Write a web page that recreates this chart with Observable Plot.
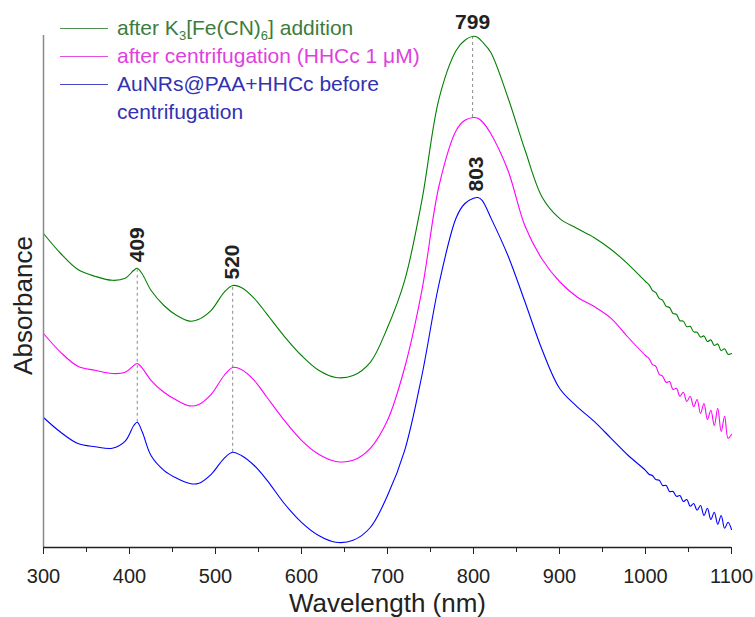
<!DOCTYPE html>
<html><head><meta charset="utf-8">
<script src="https://cdn.jsdelivr.net/npm/d3@7"></script>
<script src="https://cdn.jsdelivr.net/npm/@observablehq/plot@0.6"></script>
<style>
body{margin:0;background:#fff;font-family:"Liberation Sans",Arial,sans-serif;}
#wrap{position:relative;width:755px;height:617px;}
#legend{position:absolute;left:60px;top:14px;font-size:21px;line-height:28px;}
.row{display:flex;align-items:center;height:28px;white-space:nowrap}
.swatch{width:48px;height:0;border-top:1px solid;margin-right:9px}
.spacer{width:57px}
sub{font-size:0.62em;vertical-align:-0.35em;line-height:0}
</style></head><body><div id="wrap"><div id="legend"></div></div>
<script>
// Wavelength grid (nm)
const wavelength = [300,320,340,360,380,395,405,409,415,425,440,455,470,480,495,510,520,530,545,560,580,600,620,640,660,680,700,720,740,760,780,790,800,805,810,820,840,860,880,900,920,940,960,980,
  1000,1004,1008,1012,1016,1020,1024,1028,1032,1036,1040,1044,1048,1052,1056,1060,1064,1068,1072,1076,1080,1084,1088,1092,1096,1100];

// Absorbance (a.u., offset traces)
const greenK3 = [0.785,0.735,0.695,0.678,0.668,0.673,0.693,0.698,0.683,0.643,0.605,0.580,0.566,0.570,0.593,0.638,0.655,0.650,0.623,0.583,0.528,0.480,0.443,0.425,0.430,0.463,0.550,0.668,0.868,1.123,1.243,1.268,1.278,1.275,1.265,1.238,1.125,0.993,0.875,0.823,0.798,0.775,0.745,0.708,
  0.665,0.657,0.643,0.637,0.623,0.618,0.603,0.600,0.585,0.583,0.567,0.566,0.552,0.553,0.539,0.538,0.526,0.529,0.515,0.519,0.505,0.509,0.492,0.497,0.483,0.485];
const magentaCentr = [0.535,0.488,0.453,0.443,0.435,0.438,0.455,0.460,0.448,0.418,0.388,0.368,0.354,0.357,0.383,0.430,0.450,0.445,0.418,0.375,0.318,0.268,0.233,0.215,0.218,0.248,0.318,0.450,0.643,0.905,1.043,1.068,1.075,1.073,1.065,1.035,0.943,0.803,0.720,0.665,0.627,0.603,0.573,0.525,
  0.480,0.473,0.458,0.453,0.433,0.428,0.413,0.415,0.395,0.398,0.378,0.388,0.365,0.378,0.352,0.370,0.335,0.360,0.320,0.343,0.305,0.348,0.290,0.328,0.273,0.283];
const blueBefore = [0.325,0.288,0.260,0.252,0.248,0.266,0.305,0.313,0.288,0.230,0.193,0.173,0.160,0.160,0.183,0.223,0.238,0.230,0.205,0.168,0.110,0.063,0.030,0.013,0.018,0.050,0.130,0.243,0.430,0.660,0.825,0.860,0.873,0.875,0.868,0.825,0.730,0.613,0.493,0.398,0.353,0.316,0.273,0.230,
  0.193,0.183,0.180,0.170,0.168,0.155,0.155,0.140,0.140,0.128,0.130,0.115,0.120,0.103,0.110,0.093,0.105,0.080,0.098,0.070,0.088,0.058,0.080,0.048,0.063,0.045];

const seriesKeys = ["green","magenta","blue"];
const seriesLabels = [
  "after K<sub>3</sub>[Fe(CN)<sub>6</sub>] addition",
  "after centrifugation (HHCc 1 \u03bcM)",
  "AuNRs@PAA+HHCc before<br>centrifugation"
];
const lineColors = ["#4f8c4f","#e24fe2","#4848c6"];
const textColors = ["#3c7c3c","#e03fe0","#3232b2"];

// Peak annotations
const peakLabels = ["409","520","799","803"];
const peakWavelengths = [409,520,799,803];
const peakOn = ["green","green","green","blue"];
const peakRotated = [true,true,false,true];
// Dashed drop lines: wavelength, lower trace, upper trace
const dropWavelengths = [409,520,799];
const dropFrom = ["blue","blue","magenta"];
const dropTo = ["green","green","green"];

const xTicks = [300,400,500,600,700,800,900,1000,1100];
const xMinorTicks = [350,450,550,650,750,850,950,1050];

const seriesValues = {green: greenK3, magenta: magentaCentr, blue: blueBefore};
const rows = [];
seriesKeys.forEach((k) => wavelength.forEach((w, i) => rows.push({w, a: seriesValues[k][i], s: k})));
const nearestIdx = w => d3.minIndex(wavelength, v => Math.abs(v - w));
const valAt = (k, w) => seriesValues[k][nearestIdx(w)];

const peaks = peakLabels.map((t, i) => ({t, w: peakWavelengths[i], a: valAt(peakOn[i], peakWavelengths[i]), rot: peakRotated[i]}));
const drops = dropWavelengths.map((w, i) => ({w, a1: valAt(dropFrom[i], w), a2: valAt(dropTo[i], w)}));

const chart = Plot.plot({
  width: 755, height: 617,
  marginTop: 35, marginBottom: 70, marginLeft: 43, marginRight: 24,
  style: {fontFamily: '"Liberation Sans", Arial, sans-serif', background: "white", color: "#222"},
  x: {domain: [300, 1100]},
  y: {domain: [0, 1.28], axis: null},
  color: {domain: seriesKeys, range: lineColors},
  marks: [
    Plot.ruleX(drops, {x: "w", y1: "a1", y2: "a2", stroke: "#8a8a8a", strokeDasharray: "3,3", strokeWidth: 1}),
    Plot.line(rows, {x: "w", y: "a", z: "s", stroke: "s", strokeWidth: 1.1, curve: "catmull-rom"}),
    Plot.ruleX([300], {stroke: "#8a8a8a", strokeWidth: 1.5}),
    Plot.ruleY([0], {stroke: "#222", strokeWidth: 1.3}),
    Plot.axisX(xTicks, {tickSize: 7, tickPadding: 14, fontSize: 20, label: null, stroke: "#222", tickFormat: d => String(d)}),
    Plot.axisX(xMinorTicks, {tickSize: 5, tickFormat: () => "", label: null, stroke: "#222"}),
    Plot.text(peaks.filter(d => d.rot), {x: "w", y: "a", text: "t", rotate: -90, textAnchor: "start", dy: -6, fontSize: 21, fontWeight: "bold", fill: "#222"}),
    Plot.text(peaks.filter(d => !d.rot), {x: "w", y: "a", text: "t", lineAnchor: "bottom", dy: -7, fontSize: 21, fontWeight: "bold", fill: "#222"}),
    Plot.text(["Wavelength (nm)"], {frameAnchor: "bottom", text: d => d, lineAnchor: "middle", textAnchor: "middle", dy: 56, fontSize: 26, fill: "#222"}),
    Plot.text(["Absorbance"], {frameAnchor: "left", text: d => d, textAnchor: "middle", lineAnchor: "middle", dx: -20, dy: 14, rotate: -90, fontSize: 26, fill: "#222"})
  ]
});
const wrap = document.getElementById("wrap");
wrap.insertBefore(chart, wrap.firstChild);

const legend = document.getElementById("legend");
seriesLabels.forEach((lab, i) => {
  lab.split("<br>").forEach((part, j) => {
    const row = document.createElement("div");
    row.className = "row";
    const sw = document.createElement("div");
    if (j === 0) { sw.className = "swatch"; sw.style.borderTopColor = lineColors[i]; }
    else sw.className = "spacer";
    row.appendChild(sw);
    const tx = document.createElement("span");
    tx.innerHTML = part;
    tx.style.color = textColors[i];
    row.appendChild(tx);
    legend.appendChild(row);
  });
});
</script></body></html>
